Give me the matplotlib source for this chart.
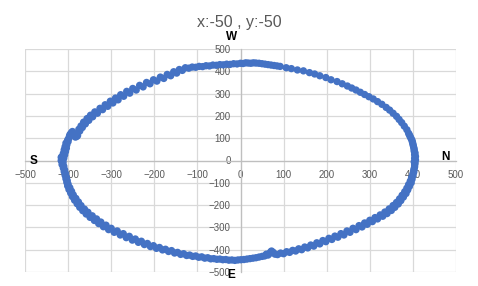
import matplotlib
matplotlib.use('Agg')
import matplotlib.pyplot as plt

# points, going round the ring (S -> W -> N -> E -> S)
x_top_left = [-412, -410, -408, -406, -404, -403, -400, -398, -396, -392, -385, -378, -383, -388,
              -375, -370, -364, -356, -348, -338, -326, -314, -302, -290, -278, -264, -250, -234,
              -218, -202, -186, -170, -155, -142, -128, -112, -96, -80, -64, -48, -32, -16, 0]
y_top_left = [-5, 10, 25, 40, 55, 70, 85, 100, 115, 125, 118, 112, 105, 122,
              140, 155, 172, 188, 203, 218, 234, 250, 266, 280, 295, 310, 323, 337,
              350, 362, 374, 386, 398, 408, 416, 419, 422, 425, 428, 430, 432, 434, 436]

x_top_right = [12, 24, 36, 50, 64, 78, 92, 106, 118, 132, 146, 160, 172, 184, 198, 210, 224, 236,
               248, 258, 268, 278, 288, 298, 308, 318, 328, 338, 346, 354, 362, 368, 374, 380,
               386, 390, 394, 398, 400, 402, 403, 404, 404, 403]
y_top_right = [438, 436, 437, 434, 430, 426, 422, 416, 412, 406, 402, 394, 388, 380, 372, 362, 354, 344,
               334, 325, 316, 306, 296, 286, 276, 264, 252, 238, 226, 212, 198, 184, 170, 154,
               138, 122, 106, 90, 74, 58, 42, 26, 10, -6]

x_bottom_right = [404, 403, 402, 400, 398, 396, 392, 388, 384, 378, 372, 366, 358, 350, 340, 330,
                  318, 306, 294, 282, 268, 254, 240, 226, 212, 198, 184, 170, 156, 142, 128, 114,
                  100, 86, 76, 70, 64, 60, 50, 36, 22, 8]
y_bottom_right = [-20, -36, -52, -68, -84, -100, -116, -132, -148, -164, -180, -195, -210, -224, -238, -250,
                  -262, -274, -286, -298, -310, -322, -334, -344, -354, -364, -374, -384, -392, -400, -406, -412,
                  -418, -422, -412, -410, -424, -420, -430, -436, -440, -444]

x_bottom_left = [-6, -20, -34, -48, -62, -76, -90, -104, -118, -132, -146, -160, -174, -188, -202,
                 -216, -230, -244, -258, -272, -286, -300, -312, -324, -334, -344, -354, -362, -370,
                 -376, -382, -388, -392, -396, -400, -402, -404, -406, -408, -410, -412]
y_bottom_left = [-446, -446, -444, -442, -440, -436, -432, -428, -424, -418, -412, -404, -398, -390, -382,
                 -372, -362, -352, -340, -328, -316, -304, -290, -276, -262, -248, -232, -218, -202,
                 -186, -170, -154, -138, -122, -106, -90, -74, -58, -42, -26, -12]

# second pass of readings where the band is thick and dense
x_extra = [-416, -414, -411, -409, -407, -405, -401, -397, -394, -390, -380, -373, -367, -360, -352,
           -343, -332, -320, -308, -296, -284, -271, -257, -242, -226, -210, -194, -178, -162, -148,
           -135, -120, -104, -88, -72, -56, -40, -24, -8, 6, 18, 30, 43, 57, 71, 85,
           392, 396, 399, 401, 403, 405, 406, 406, 405, 404, 402, 400, 397, 394, 390, 386, 381,
           375, 369, 362, 354, 345, 335, 324, 312, 300, 288, 275, 261, 247, 233, 219, 205, 191,
           177, 163, 149, 135, 121, 107, 93, 80, 72, 68, 56, 43, 29, 15, 1,
           -13, -27, -41, -55, -69, -83, -97, -111, -125, -139, -153, -167, -181, -195, -209,
           -223, -237, -251, -265, -279, -293, -306, -318, -329, -339, -349, -358, -366, -373,
           -379, -385, -390, -394, -398, -401, -403, -405, -407, -409, -411, -414, -415, -416]
y_extra = [0, 18, 32, 48, 62, 78, 92, 108, 120, 130, 108, 132, 148, 164, 180,
           196, 212, 228, 243, 258, 272, 288, 302, 316, 330, 344, 356, 368, 380, 392,
           404, 414, 418, 421, 424, 427, 429, 431, 433, 435, 437, 438, 436, 432, 428, 424,
           114, 98, 82, 66, 50, 34, 18, 2, -12, -28, -44, -60, -76, -92, -108, -124, -140,
           -156, -172, -188, -202, -217, -231, -244, -256, -268, -280, -292, -304, -316, -328, -339, -349, -359,
           -369, -379, -388, -396, -403, -409, -415, -420, -406, -416, -428, -433, -438, -442, -445,
           -448, -447, -445, -443, -441, -438, -434, -430, -426, -421, -415, -408, -401, -394, -386,
           -377, -367, -357, -346, -334, -322, -310, -297, -283, -269, -255, -240, -225, -210,
           -194, -178, -162, -146, -130, -114, -98, -82, -66, -50, -34, -18, -2, 14]

x_vals = x_top_left + x_top_right + x_bottom_right + x_bottom_left + x_extra
y_vals = y_top_left + y_top_right + y_bottom_right + y_bottom_left + y_extra

ticks = [-500, -400, -300, -200, -100, 0, 100, 200, 300, 400, 500]

plt.rcParams['font.family'] = ['Liberation Sans', 'DejaVu Sans']

fig = plt.figure(figsize=(4.78, 2.86), dpi=100)
ax = fig.add_axes([25 / 478, 14 / 286, 431 / 478, 223 / 286])

ax.scatter(x_vals, y_vals, s=28, color='#4472C4', edgecolors='none', zorder=3)

ax.set_xlim(-500, 500)
ax.set_ylim(-500, 500)
ax.set_xticks(ticks)
ax.set_yticks(ticks)
ax.grid(True, color='#d9d9d9', linewidth=0.9)
ax.set_axisbelow(True)

ax.spines['left'].set_position('zero')
ax.spines['bottom'].set_position('zero')
ax.spines['top'].set_visible(False)
ax.spines['right'].set_visible(False)
ax.spines['left'].set_color('#bfbfbf')
ax.spines['bottom'].set_color('#bfbfbf')
ax.spines['left'].set_linewidth(0.9)
ax.spines['bottom'].set_linewidth(0.9)
ax.tick_params(axis='x', length=0, pad=7, labelsize=7, labelcolor='#595959')
ax.tick_params(axis='y', length=0, pad=7, labelsize=7, labelcolor='#595959')

fig.text(239 / 478, 1 - 23 / 286, 'x:-50 , y:-50', ha='center', va='center',
         fontsize=11.5, color='#595959')

# compass letters
ax.text(-20, 555, 'W', ha='center', va='center', fontsize=8.5, fontweight='bold', clip_on=False)
ax.text(-480, 0, 'S', ha='center', va='center', fontsize=8.5, fontweight='bold', clip_on=False)
ax.text(476, 17, 'N', ha='center', va='center', fontsize=8.5, fontweight='bold', clip_on=False)
ax.text(-21, -513, 'E', ha='center', va='center', fontsize=8.5, fontweight='bold', clip_on=False)

fig.savefig('out.png', dpi=100)
